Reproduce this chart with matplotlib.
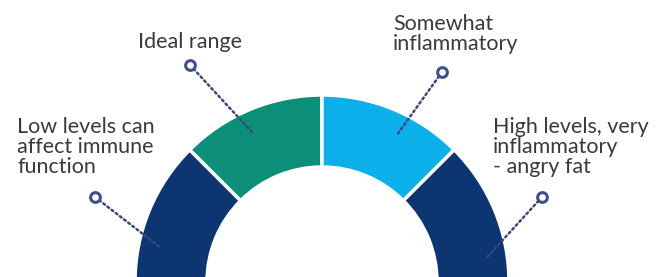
import numpy as np
import matplotlib.pyplot as plt
from matplotlib.patches import Wedge

# сегменты полукольца (слева направо)
labels = ['Low levels can\naffect immune\nfunction',
          'Ideal range',
          'Somewhat\ninflammatory',
          'High levels, very\ninflammatory\n- angry fat']
shares = [1, 1, 1, 1]
colors = ['#0c3572', '#0b8f78', '#0bb0ea', '#0c3572']

# куда указывает пунктир (угол, град) и где стоит кружок/подпись
point_angles = [168, 115, 63, 8]
marker_xy = [(95, 80), (190, 212), (442, 205), (542, 80)]
text_xy = [(17, 130), (190, 235), (393, 243), (493, 130)]
text_ha = ['left', 'center', 'left', 'left']

cx, cy = 322, -5
r_out, r_in = 187, 115

fig = plt.figure(figsize=(6.68, 2.77), dpi=100)
ax = fig.add_axes([0, 0, 1, 1])
ax.set_xlim(0, 668)
ax.set_ylim(0, 277)
ax.axis('off')

# углы границ сегментов: 180 -> 0
total = sum(shares)
edges = 180 - 180 * np.concatenate([[0], np.cumsum(shares)]) / total
for i in range(len(shares)):
    ax.add_patch(Wedge((cx, cy), r_out, edges[i + 1], edges[i], width=r_out - r_in,
                       facecolor=colors[i], edgecolor='white', linewidth=2.5))

r_pt = 165
for i, lab in enumerate(labels):
    a = np.radians(point_angles[i])
    px, py = cx + r_pt * np.cos(a), cy + r_pt * np.sin(a)
    mx, my = marker_xy[i]
    ax.plot([mx, px], [my, py], color='#3b4878', lw=1.8, ls=(0, (0.8, 1.3)),
            dash_capstyle='round', zorder=3)
    ax.plot(mx, my, 'o', ms=7, mfc='white', mec='#3d4f8f', mew=2.2, zorder=4)
    ax.text(text_xy[i][0], text_xy[i][1], lab, ha=text_ha[i], va='center',
            fontsize=15.5, family='Lato', color='#3a3a3a', linespacing=1.0)

plt.savefig('out.png', dpi=100)
